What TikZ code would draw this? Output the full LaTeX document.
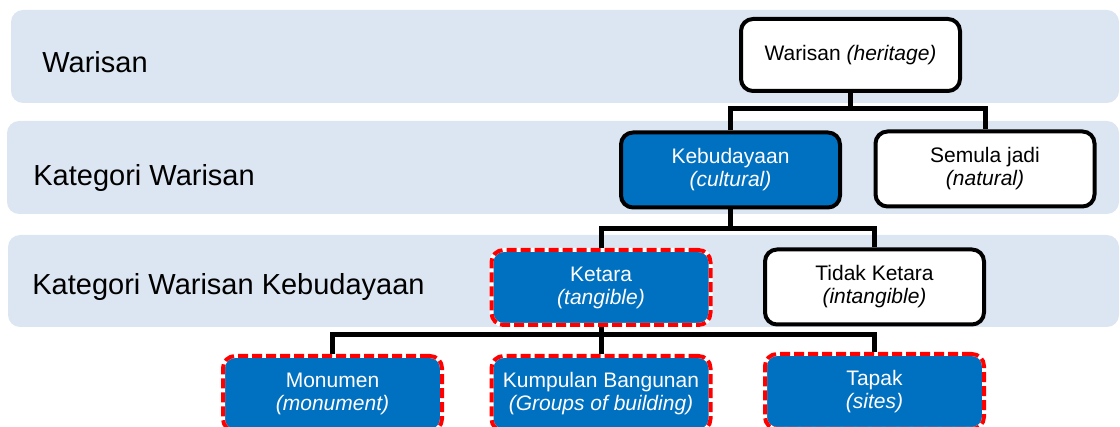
\documentclass[tikz,border=0pt]{standalone}
\usepackage{fontspec}
\setmainfont{Liberation Sans}
\definecolor{HeriBlue}{RGB}{0,112,192}
\definecolor{BandTint}{RGB}{220,230,242}
\definecolor{DashRed}{RGB}{255,0,0}

\tikzset{
  band/.style={fill=BandTint,rounded corners=6pt},
  tier/.style={anchor=base west,inner sep=0pt,font=\fontsize{14.5}{17}\selectfont},
  box/.style={rounded corners=6pt,line width=2pt,minimum width=109.5pt,minimum height=37.5pt,
    inner sep=0pt,align=center,font=\fontsize{10.5}{11.5}\selectfont},
  plainbox/.style={box,draw=black,fill=white},
  bluebox/.style={box,draw=black,fill=HeriBlue,text=white},
  dashbox/.style={box,draw=white,fill=HeriBlue,text=white,
    postaction={draw=DashRed,line width=2pt,dash pattern=on 5pt off 2pt}},
  link/.style={line width=2.5pt}
}

\begin{document}
\begin{tikzpicture}[x=0.5pt,y=-0.5pt]
  \useasboundingbox (0,0) rectangle (1120,427);
  \clip (0,0) rectangle (1120,427);
  % tiers
  \fill[band] (11,10) rectangle (1119,103);
  \fill[band] (7,121) rectangle (1119,214);
  \fill[band] (8,235) rectangle (1119,327);
  \node[tier] (tierA) at (42,73) {Warisan};
  \node[tier] (tierB) at (33,186) {Kategori Warisan};
  \node[tier] (tierC) at (32,295) {Kategori Warisan Kebudayaan};
  % boxes
  \node[plainbox,minimum height=36pt] (war) at (850.5,55) {Warisan \textit{(heritage)}};
  \node[bluebox] (keb) at (730.5,170) {Kebudayaan\\\textit{(cultural)}};
  \node[plainbox] (sem) at (985,169) {Semula jadi\\\textit{(natural)}};
  \node[dashbox] (ket) at (601,287.5) {Ketara\\\textit{(tangible)}};
  \node[plainbox] (tid) at (874.5,287) {Tidak Ketara\\\textit{(intangible)}};
  \node[dashbox] (mon) at (332.5,393.5) {Monumen\\\textit{(monument)}};
  \node[dashbox] (kum) at (601,393.5) {Kumpulan Bangunan\\\textit{(Groups of building)}};
  \node[dashbox] (tap) at (874.5,391.5) {Tapak\\\textit{(sites)}};
  % links
  \draw[link] (war.south) -- ++(0,16) -| (keb.north);
  \draw[link] (war.south) -- ++(0,16) -| (sem.north);
  \draw[link] (keb.south) -- ++(0,19) -| (ket.north);
  \draw[link] (keb.south) -- ++(0,19) -| (tid.north);
  \draw[link] (ket.south) -- ++(0,8) -| (mon.north);
  \draw[link] (ket.south) -- (kum.north);
  \draw[link] (ket.south) -- ++(0,8) -| (tap.north);
\end{tikzpicture}
\end{document}
